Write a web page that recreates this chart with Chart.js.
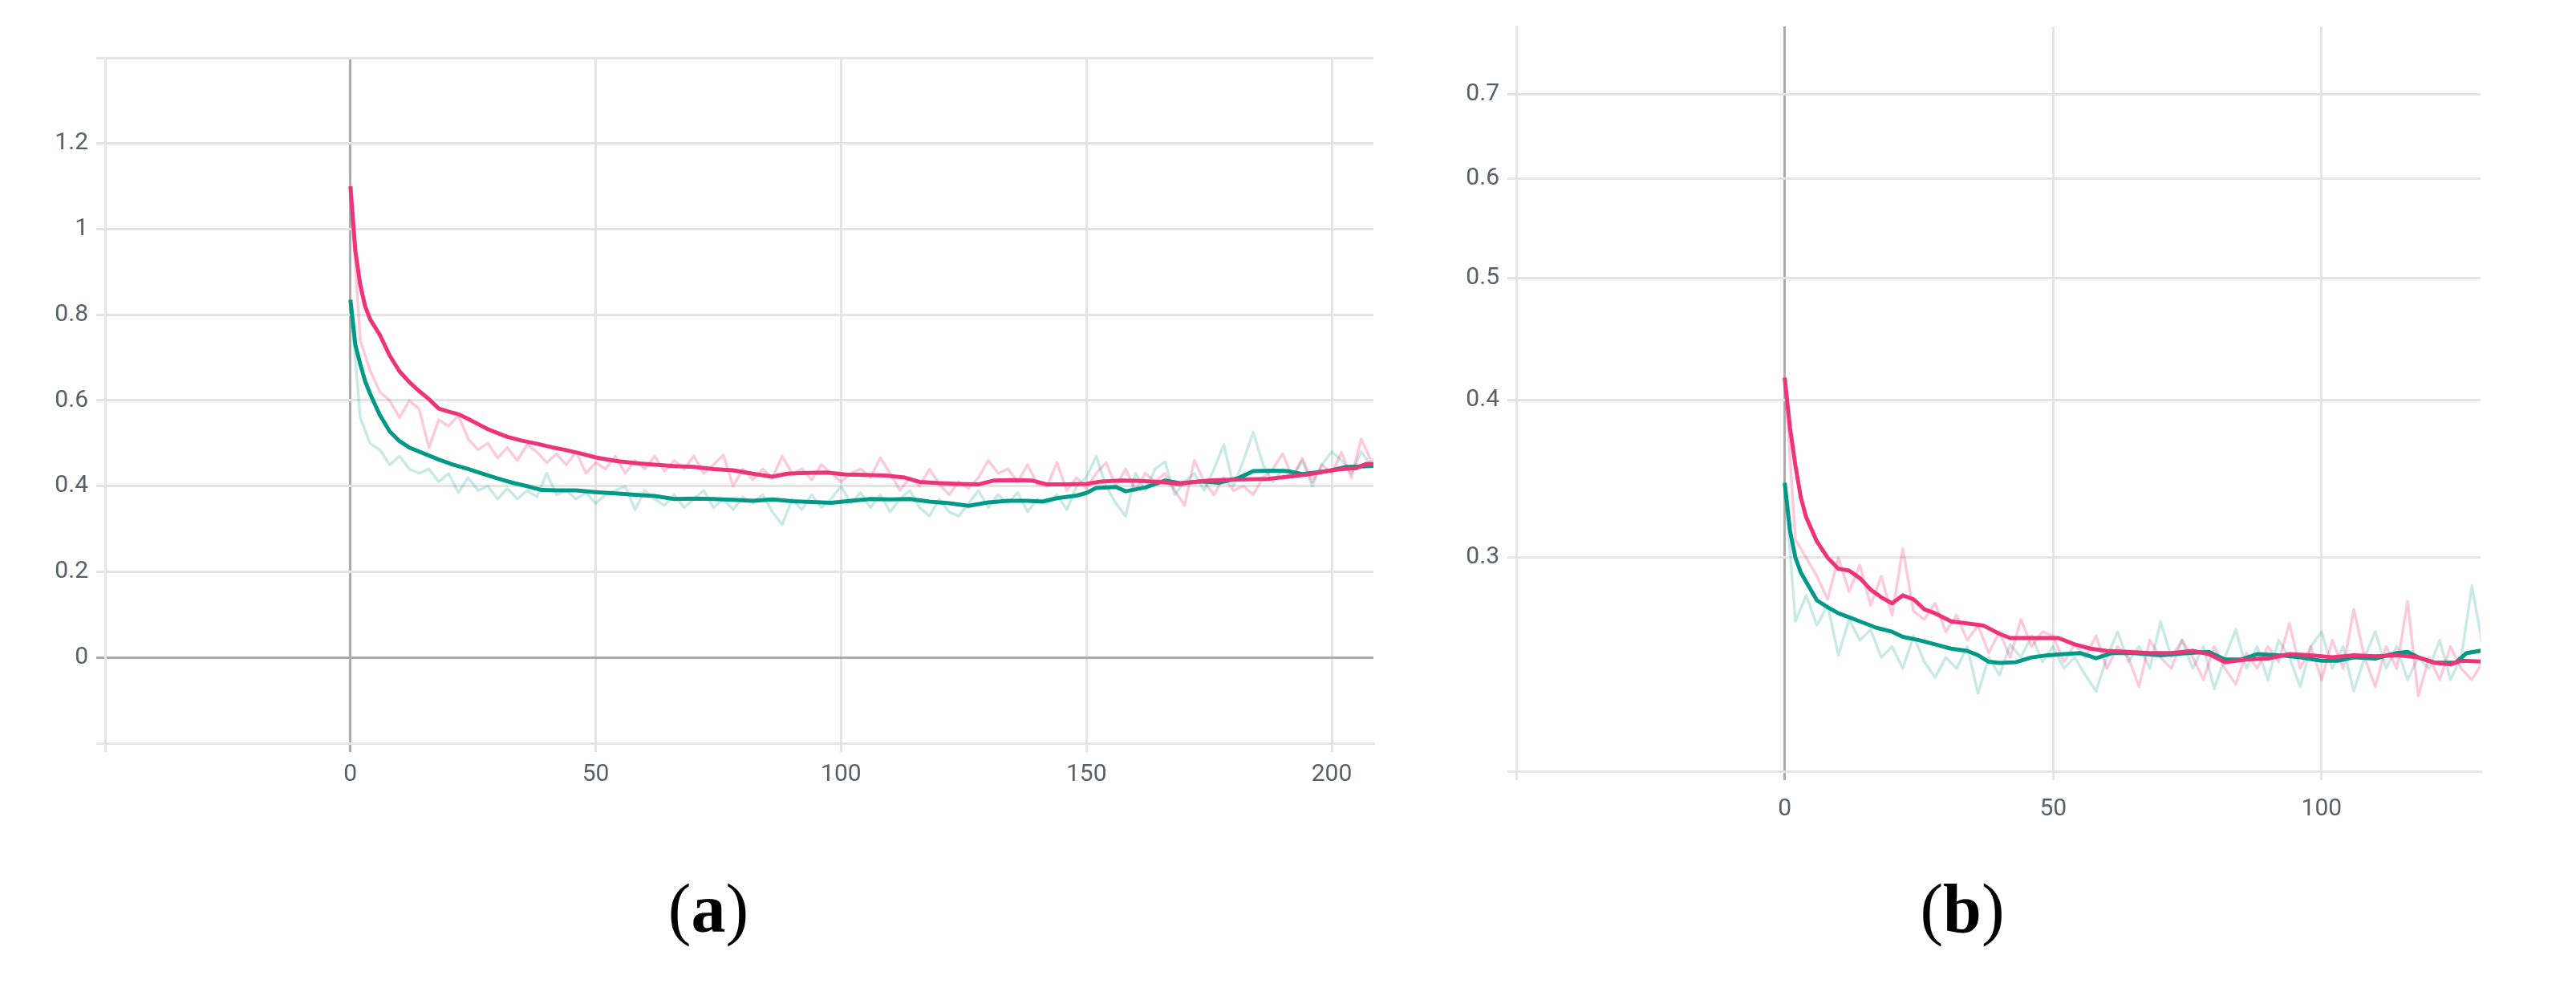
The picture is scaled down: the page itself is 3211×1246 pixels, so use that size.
<!DOCTYPE html>
<html>
<head>
<meta charset="utf-8">
<script src="https://cdn.jsdelivr.net/npm/chart.js@4.4.1/dist/chart.umd.min.js"></script>
<style>
  html, body { margin: 0; padding: 0; background: #ffffff; }
  body { width: 3211px; height: 1246px; position: relative; overflow: hidden; }
  canvas { position: absolute; top: 0; }
  #chartA { left: 0; }
  #chartB { left: 1760px; }
  .caption {
    position: absolute; top: 1089px; width: 300px; text-align: center;
    font-family: "Liberation Serif", "DejaVu Serif", serif; font-size: 86px; line-height: 1; color: #000;
  }
  .caption b { font-weight: bold; }
</style>
</head>
<body>
<canvas id="chartA" width="1760" height="1060"></canvas>
<canvas id="chartB" width="1451" height="1060"></canvas>
<div class="caption" style="left: 733px;">(<b>a</b>)</div>
<div class="caption" style="left: 2296px;">(<b>b</b>)</div>
<script>
// ---- panel (a) data ----
const aXTicks = [-50, 0, 50, 100, 150, 200];
const aXLabels = ['', '0', '50', '100', '150', '200'];
const aYTicks = [-0.2, 0, 0.2, 0.4, 0.6, 0.8, 1, 1.2, 1.4];
const aYLabels = ['', '0', '0.2', '0.4', '0.6', '0.8', '1', '1.2', ''];

// smoothed curves as [step, value]
const aPinkSmooth = [
  [0, 1.10], [1, 0.95], [2, 0.87], [3, 0.82], [4, 0.79], [6, 0.753], [8, 0.705], [10, 0.668],
  [12, 0.643], [14, 0.622], [16, 0.603], [18, 0.581], [20, 0.574], [22, 0.568], [24, 0.557],
  [26, 0.545], [28, 0.533], [30, 0.524], [32, 0.515], [35, 0.506], [38, 0.499], [41, 0.491],
  [44, 0.484], [47, 0.476], [50, 0.467], [54, 0.459], [58, 0.454], [62, 0.450], [66, 0.447],
  [70, 0.445], [74, 0.440], [78, 0.437], [82, 0.429], [86, 0.422], [89, 0.429], [93, 0.431],
  [97, 0.432], [101, 0.427], [105, 0.426], [109, 0.425], [113, 0.420], [116, 0.410], [120, 0.407],
  [124, 0.405], [128, 0.404], [131, 0.413], [135, 0.414], [139, 0.413], [142, 0.404], [146, 0.404],
  [150, 0.405], [153, 0.411], [157, 0.413], [161, 0.412], [165, 0.410], [169, 0.405], [172, 0.410],
  [175, 0.413], [179, 0.415], [183, 0.416], [187, 0.417], [191, 0.422], [195, 0.427], [199, 0.435],
  [202, 0.440], [205, 0.442], [207, 0.452], [210, 0.452]
];
const aTealSmooth = [
  [0, 0.835], [1, 0.73], [2, 0.685], [3, 0.645], [4, 0.616], [6, 0.566], [8, 0.528], [10, 0.505],
  [12, 0.490], [15, 0.476], [18, 0.462], [21, 0.450], [24, 0.440], [27, 0.429], [30, 0.418],
  [33, 0.408], [36, 0.400], [39, 0.391], [42, 0.390], [46, 0.390], [50, 0.386], [54, 0.383],
  [58, 0.380], [62, 0.377], [66, 0.370], [70, 0.371], [74, 0.370], [78, 0.368], [82, 0.366],
  [86, 0.369], [90, 0.365], [94, 0.363], [98, 0.361], [102, 0.366], [106, 0.370], [110, 0.369],
  [114, 0.370], [118, 0.364], [122, 0.360], [126, 0.354], [130, 0.362], [134, 0.366], [138, 0.366],
  [141, 0.364], [144, 0.372], [148, 0.378], [150, 0.384], [152, 0.396], [156, 0.398], [158, 0.388],
  [162, 0.397], [166, 0.413], [169, 0.407], [173, 0.411], [177, 0.408], [181, 0.419], [184, 0.435],
  [188, 0.436], [191, 0.435], [194, 0.428], [199, 0.435], [203, 0.445], [206, 0.446], [210, 0.448]
];

// raw curves, one value every RAW_STEP steps starting at 0
const RAW_STEP = 2;
const aPinkRaw = [
  1.10, 0.74, 0.67, 0.62, 0.60, 0.56, 0.60, 0.58, 0.49, 0.555,
  0.54, 0.565, 0.51, 0.485, 0.50, 0.466, 0.49, 0.46, 0.497, 0.48,
  0.455, 0.475, 0.45, 0.48, 0.43, 0.455, 0.44, 0.47, 0.43, 0.46,
  0.44, 0.47, 0.435, 0.46, 0.44, 0.47, 0.43, 0.45, 0.473, 0.40,
  0.44, 0.415, 0.44, 0.42, 0.47, 0.43, 0.44, 0.415, 0.45, 0.43,
  0.41, 0.43, 0.44, 0.42, 0.466, 0.43, 0.39, 0.42, 0.40, 0.44,
  0.405, 0.38, 0.41, 0.395, 0.42, 0.46, 0.43, 0.44, 0.41, 0.45,
  0.405, 0.40, 0.455, 0.39, 0.42, 0.395, 0.43, 0.455, 0.40, 0.44,
  0.39, 0.43, 0.41, 0.43, 0.39, 0.355, 0.46, 0.41, 0.38, 0.42,
  0.39, 0.40, 0.38, 0.42, 0.44, 0.476, 0.42, 0.465, 0.41, 0.45,
  0.43, 0.479, 0.42, 0.51, 0.46, 0.47
];
const aTealRaw = [
  0.835, 0.56, 0.50, 0.485, 0.45, 0.47, 0.44, 0.43, 0.44, 0.41,
  0.43, 0.385, 0.42, 0.39, 0.40, 0.37, 0.395, 0.37, 0.39, 0.375,
  0.43, 0.38, 0.39, 0.37, 0.385, 0.36, 0.38, 0.39, 0.40, 0.345,
  0.39, 0.37, 0.355, 0.38, 0.35, 0.37, 0.39, 0.35, 0.37, 0.345,
  0.375, 0.36, 0.38, 0.34, 0.31, 0.37, 0.345, 0.38, 0.35, 0.37,
  0.40, 0.36, 0.385, 0.35, 0.38, 0.34, 0.37, 0.39, 0.35, 0.33,
  0.37, 0.34, 0.33, 0.36, 0.39, 0.35, 0.38, 0.36, 0.385, 0.34,
  0.37, 0.36, 0.38, 0.345, 0.40, 0.42, 0.47, 0.40, 0.36, 0.33,
  0.43, 0.39, 0.44, 0.457, 0.38, 0.41, 0.43, 0.39, 0.44, 0.497,
  0.40, 0.46, 0.526, 0.45, 0.41, 0.44, 0.42, 0.46, 0.40, 0.45,
  0.48, 0.46, 0.43, 0.48, 0.45, 0.46
];

// ---- panel (b) data ----
const bXTicks = [-50, 0, 50, 100];
const bXLabels = ['', '0', '50', '100'];
const bYTicks = [0.203, 0.3, 0.4, 0.5, 0.6, 0.7];
const bYLabels = ['', '0.3', '0.4', '0.5', '0.6', '0.7'];

const bPinkSmooth = [
  [0, 0.417], [1, 0.38], [2, 0.355], [3, 0.335], [4, 0.323], [6, 0.309], [8, 0.300], [10, 0.294],
  [12, 0.293], [14, 0.289], [16, 0.283], [18, 0.279], [20, 0.276], [22, 0.280], [24, 0.278],
  [26, 0.273], [28, 0.271], [31, 0.267], [34, 0.266], [37, 0.265], [40, 0.261], [42, 0.259],
  [45, 0.259], [48, 0.259], [51, 0.259], [54, 0.256], [57, 0.254], [60, 0.253], [64, 0.2525],
  [68, 0.252], [72, 0.252], [76, 0.253], [79, 0.2515], [82, 0.2478], [86, 0.249], [90, 0.2495],
  [94, 0.2515], [98, 0.251], [102, 0.250], [106, 0.251], [110, 0.2505], [114, 0.251], [118, 0.250],
  [121, 0.2476], [124, 0.2468], [126, 0.2485], [131, 0.248]
];
const bTealSmooth = [
  [0, 0.344], [1, 0.315], [2, 0.300], [3, 0.292], [4, 0.287], [6, 0.2775], [8, 0.274], [10, 0.271],
  [12, 0.269], [14, 0.267], [17, 0.264], [20, 0.262], [22, 0.2596], [25, 0.258], [28, 0.256],
  [31, 0.254], [34, 0.253], [36, 0.251], [38, 0.248], [40, 0.2475], [43, 0.2478], [46, 0.250],
  [49, 0.251], [52, 0.2515], [55, 0.252], [58, 0.2496], [61, 0.252], [65, 0.252], [70, 0.251],
  [75, 0.252], [79, 0.2525], [82, 0.249], [85, 0.249], [88, 0.2515], [92, 0.251], [96, 0.250],
  [100, 0.2485], [103, 0.2485], [106, 0.250], [110, 0.2495], [114, 0.252], [116, 0.2525],
  [118, 0.250], [121, 0.2476], [125, 0.2476], [127, 0.252], [131, 0.2536]
];
const bPinkRaw = [
  0.417, 0.31, 0.30, 0.29, 0.278, 0.30, 0.282, 0.296, 0.275, 0.29,
  0.27, 0.305, 0.272, 0.268, 0.276, 0.262, 0.27, 0.258, 0.265, 0.252,
  0.262, 0.25, 0.268, 0.255, 0.262, 0.26, 0.248, 0.256, 0.25, 0.26,
  0.245, 0.255, 0.25, 0.237, 0.258, 0.25, 0.245, 0.258, 0.25, 0.24,
  0.255, 0.245, 0.238, 0.252, 0.245, 0.255, 0.248, 0.266, 0.245, 0.255,
  0.24, 0.258, 0.245, 0.273, 0.25, 0.237, 0.255, 0.245, 0.277, 0.233,
  0.25, 0.24, 0.255, 0.245, 0.24, 0.248
];
const bTealRaw = [
  0.344, 0.267, 0.28, 0.265, 0.275, 0.251, 0.268, 0.258, 0.263, 0.25,
  0.255, 0.245, 0.26, 0.248, 0.241, 0.25, 0.245, 0.255, 0.234, 0.25,
  0.242, 0.256, 0.25, 0.26, 0.248, 0.255, 0.245, 0.25, 0.242, 0.235,
  0.25, 0.262, 0.248, 0.255, 0.245, 0.267, 0.25, 0.258, 0.245, 0.255,
  0.236, 0.25, 0.263, 0.245, 0.255, 0.24, 0.258, 0.25, 0.237, 0.255,
  0.262, 0.245, 0.255, 0.235, 0.25, 0.262, 0.245, 0.255, 0.24, 0.25,
  0.245, 0.258, 0.24, 0.25, 0.285, 0.255
];

const PINK = '#ee3377';
const TEAL = '#009988';
const PINK_FAINT = 'rgba(238, 51, 119, 0.26)';
const TEAL_FAINT = 'rgba(0, 153, 136, 0.21)';
const GRID = '#e4e4e4';
const ZERO = '#ababab';

const pairsToPoints = pairs => pairs.map(p => ({ x: p[0], y: p[1] }));
const rawToPoints = vals => vals.map((v, i) => ({ x: i * RAW_STEP, y: v }));

function lineSet(points, color, width, order) {
  return {
    data: points, borderColor: color, borderWidth: width, pointRadius: 0,
    tension: 0, fill: false, order: order, borderJoinStyle: 'round'
  };
}

function makeChart(canvasId, opt) {
  const ctx = document.getElementById(canvasId).getContext('2d');
  return new Chart(ctx, {
    type: 'line',
    data: {
      datasets: [
        lineSet(pairsToPoints(opt.pinkSmooth), PINK, 5, 0),
        lineSet(pairsToPoints(opt.tealSmooth), TEAL, 5, 1),
        lineSet(rawToPoints(opt.pinkRaw), PINK_FAINT, 3.5, 2),
        lineSet(rawToPoints(opt.tealRaw), TEAL_FAINT, 3.5, 3)
      ]
    },
    options: {
      responsive: false,
      animation: false,
      devicePixelRatio: 1,
      layout: { padding: opt.padding },
      scales: {
        x: {
          type: 'linear', min: opt.xMin, max: opt.xMax,
          afterBuildTicks: scale => { scale.ticks = opt.xTicks.map(v => ({ value: v })); },
          afterFit: scale => { scale.height = 60; },
          grid: {
            color: c => (c.tick && c.tick.value === 0) ? ZERO : GRID,
            lineWidth: 3, tickLength: 11
          },
          border: { color: GRID, width: 3 },
          ticks: {
            autoSkip: false, maxRotation: 0, padding: opt.xPad, color: '#5a5e66',
            font: { family: 'Roboto', size: 30 },
            callback: (v, i) => opt.xLabels[i]
          }
        },
        y: {
          type: opt.yType, min: opt.yMin, max: opt.yMax,
          afterBuildTicks: scale => { scale.ticks = opt.yTicks.map(v => ({ value: v })); },
          afterFit: scale => { scale.width = opt.yWidth; },
          grid: {
            color: c => (opt.zeroLine && c.tick && Math.abs(c.tick.value) < 1e-9) ? ZERO : GRID,
            lineWidth: 3, tickLength: 11
          },
          border: { color: GRID, width: 3 },
          ticks: {
            autoSkip: false, padding: 10, color: '#5a5e66',
            font: { family: 'Roboto', size: 30 },
            callback: (v, i) => opt.yLabels[i]
          }
        }
      },
      plugins: {
        legend: { display: false },
        tooltip: { enabled: false }
      }
    }
  });
}

makeChart('chartA', {
  pinkSmooth: aPinkSmooth, tealSmooth: aTealSmooth, pinkRaw: aPinkRaw, tealRaw: aTealRaw,
  xMin: -50, xMax: 208.5, xTicks: aXTicks, xLabels: aXLabels, xPad: 10,
  yType: 'linear', yMin: -0.2, yMax: 1.4, yTicks: aYTicks, yLabels: aYLabels,
  yWidth: 131, zeroLine: true,
  padding: { left: 0, top: 72, right: 48, bottom: 74 }
});

makeChart('chartB', {
  pinkSmooth: bPinkSmooth, tealSmooth: bTealSmooth, pinkRaw: bPinkRaw, tealRaw: bTealRaw,
  xMin: -50, xMax: 129.6, xTicks: bXTicks, xLabels: bXLabels, xPad: 18,
  yType: 'logarithmic', yMin: 0.203, yMax: 0.7925, yTicks: bYTicks, yLabels: bYLabels,
  yWidth: 130, zeroLine: false,
  padding: { left: 0, top: 33, right: 119, bottom: 39 }
});
</script>
</body>
</html>
